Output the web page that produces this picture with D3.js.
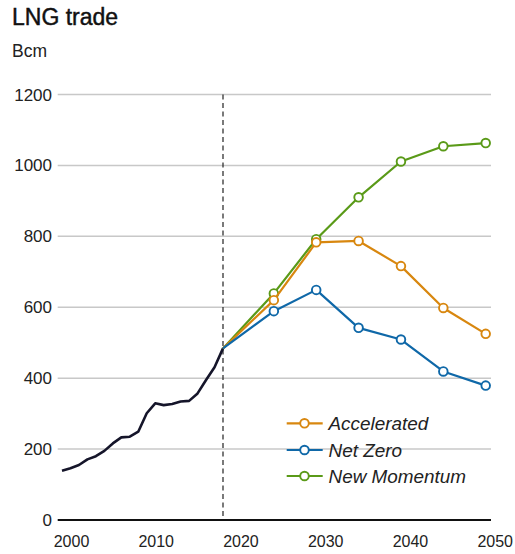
<!DOCTYPE html>
<html><head><meta charset="utf-8">
<script src="https://cdn.jsdelivr.net/npm/d3@7"></script>
<style>body{margin:0;background:#fff;}svg{display:block;font-family:"Liberation Sans",Arial,sans-serif;}</style>
</head><body>
<script>
const histYears = [2000,2001,2002,2003,2004,2005,2006,2007,2008,2009,2010,2011,2012,2013,2014,2015,2016,2017,2018,2019];
const histValues = [139,146,155,171,180,195,216,233,235,249,301,329,324,327,334,336,357,395,431,484];
const scenYears = [2019,2025,2030,2035,2040,2045,2050];
const accelerated = [484,620,783,787,716,598,525];
const netZero = [484,589,649,542,509,419,379];
const newMomentum = [484,639,792,910,1011,1054,1063];
const yTicks = [0,200,400,600,800,1000,1200];
const xTicks = [2000,2010,2020,2030,2040,2050];
const seriesNames = ["Accelerated","Net Zero","New Momentum"];
const seriesColors = ["#d8870f","#0f68a8","#5a9a18"];

const W=515,H=554;
const svg=d3.select("body").append("svg").attr("width",W).attr("height",H);
const x=d3.scaleLinear().domain([2019,2050]).range([223,485.7]);
const y=d3.scaleLinear().domain([0,1200]).range([520,94.5]);

svg.append("text").attr("x",12).attr("y",25).attr("font-size",23).attr("fill","#111")
  .attr("stroke","#111").attr("stroke-width",0.45).text("LNG trade");
svg.append("text").attr("x",12).attr("y",56.5).attr("font-size",17.5).attr("fill","#222").text("Bcm");

// grid
svg.append("g").selectAll("line").data(yTicks.filter(d=>d>0)).join("line")
  .attr("x1",57.7).attr("x2",491).attr("y1",d=>y(d)).attr("y2",d=>y(d))
  .attr("stroke","#c8c8c8").attr("stroke-width",1.5);
svg.append("g").selectAll("text").data(yTicks).join("text")
  .attr("x",52).attr("y",d=>y(d)+6).attr("text-anchor","end").attr("font-size",17).attr("fill","#222").text(d=>d);
// x labels
svg.append("g").selectAll("text").data(xTicks).join("text")
  .attr("x",d=>x(d)+9.5).attr("y",547).attr("text-anchor","middle").attr("font-size",16).attr("fill","#222").text(d=>d);

// dashed line
svg.append("line").attr("x1",x(2019)).attr("x2",x(2019)).attr("y1",y(1200)).attr("y2",y(0))
  .attr("stroke","#222").attr("stroke-width",1.2).attr("stroke-dasharray","5,3.5");
// baseline
svg.append("line").attr("x1",57.7).attr("x2",491).attr("y1",y(0)).attr("y2",y(0)).attr("stroke","#111").attr("stroke-width",2);

const line=d3.line().x(d=>x(d[0])).y(d=>y(d[1]));
svg.append("path").datum(histYears.map((yr,i)=>[yr,histValues[i]]))
  .attr("d",line).attr("fill","none").attr("stroke","#15152a").attr("stroke-width",2.6).attr("stroke-linejoin","round");

const series=[accelerated,netZero,newMomentum];
[2,0,1].forEach(k=>{
  const pts=scenYears.map((yr,i)=>[yr,series[k][i]]);
  svg.append("path").datum(pts).attr("d",line).attr("fill","none").attr("stroke",seriesColors[k]).attr("stroke-width",2.2).attr("stroke-linejoin","round");
  svg.append("g").selectAll("circle").data(pts.slice(1)).join("circle")
    .attr("cx",d=>x(d[0])).attr("cy",d=>y(d[1])).attr("r",4.3)
    .attr("fill","#fff").attr("stroke",seriesColors[k]).attr("stroke-width",1.9);
});

// legend
const lg=svg.append("g");
seriesNames.forEach((n,i)=>{
  const yy=[423.3,450,476][i];
  lg.append("line").attr("x1",286.7).attr("x2",322.7).attr("y1",yy).attr("y2",yy).attr("stroke",seriesColors[i]).attr("stroke-width",2.2);
  lg.append("circle").attr("cx",304.5).attr("cy",yy).attr("r",4.3).attr("fill","#fff").attr("stroke",seriesColors[i]).attr("stroke-width",1.9);
  lg.append("text").attr("x",328.5).attr("y",yy+6.5).attr("font-size",18.9).attr("font-style","italic").attr("fill","#222").text(n);
});
</script>
</body></html>
